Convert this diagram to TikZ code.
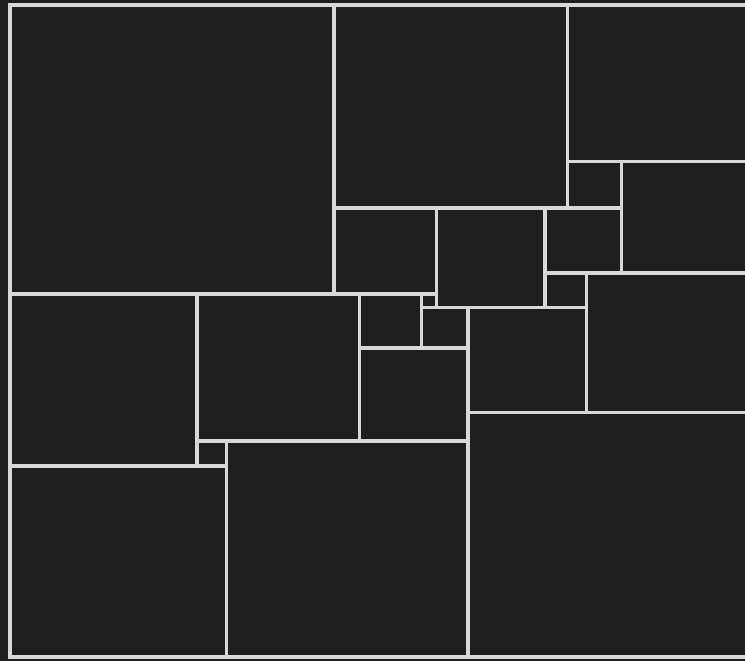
\documentclass[tikz,border=0pt]{standalone}
\definecolor{bgdark}{HTML}{1E1E1E}
\definecolor{edgegray}{HTML}{D8D8D8}
\tikzset{sq/.style={draw=edgegray,line width=3.1pt,fill=bgdark}}
\begin{document}
\begin{tikzpicture}[x=1pt,y=-1pt]
\useasboundingbox (0,0) rectangle (745,661);
\fill[bgdark] (0,0) rectangle (745,661);
\clip (0,0) rectangle (745,661);
% 50
\draw[sq] (10,5) rectangle (334,294);
% 35
\draw[sq] (334,5) rectangle (567.5,208);
% 27
\draw[sq] (567.5,5) rectangle (748,161.5);
% 8
\draw[sq] (567.5,161.5) rectangle (621.5,208);
% 19
\draw[sq] (621.5,161.5) rectangle (748,273);
% 15
\draw[sq] (334,208) rectangle (436.5,294);
% 17
\draw[sq] (436.5,208) rectangle (545,307.5);
% 11
\draw[sq] (545,208) rectangle (621.5,273);
% 6
\draw[sq] (545,273) rectangle (586.5,307.5);
% 24
\draw[sq] (586.5,273) rectangle (748,412.5);
% 29
\draw[sq] (10,294) rectangle (197,466);
% 25
\draw[sq] (197,294) rectangle (359.5,441);
% 9
\draw[sq] (359.5,294) rectangle (421.5,348);
% 2
\draw[sq] (421.5,294) rectangle (436.5,307.5);
% 7
\draw[sq] (421.5,307.5) rectangle (468,348);
% 18
\draw[sq] (468,307.5) rectangle (586.5,412.5);
% 16
\draw[sq] (359.5,348) rectangle (468,441);
% 4
\draw[sq] (197,441) rectangle (226.5,466);
% 33
\draw[sq] (10,466) rectangle (226.5,657);
% 37
\draw[sq] (226.5,441) rectangle (468,657);
% 42
\draw[sq] (468,412.5) rectangle (748,657);
\end{tikzpicture}
\end{document}
